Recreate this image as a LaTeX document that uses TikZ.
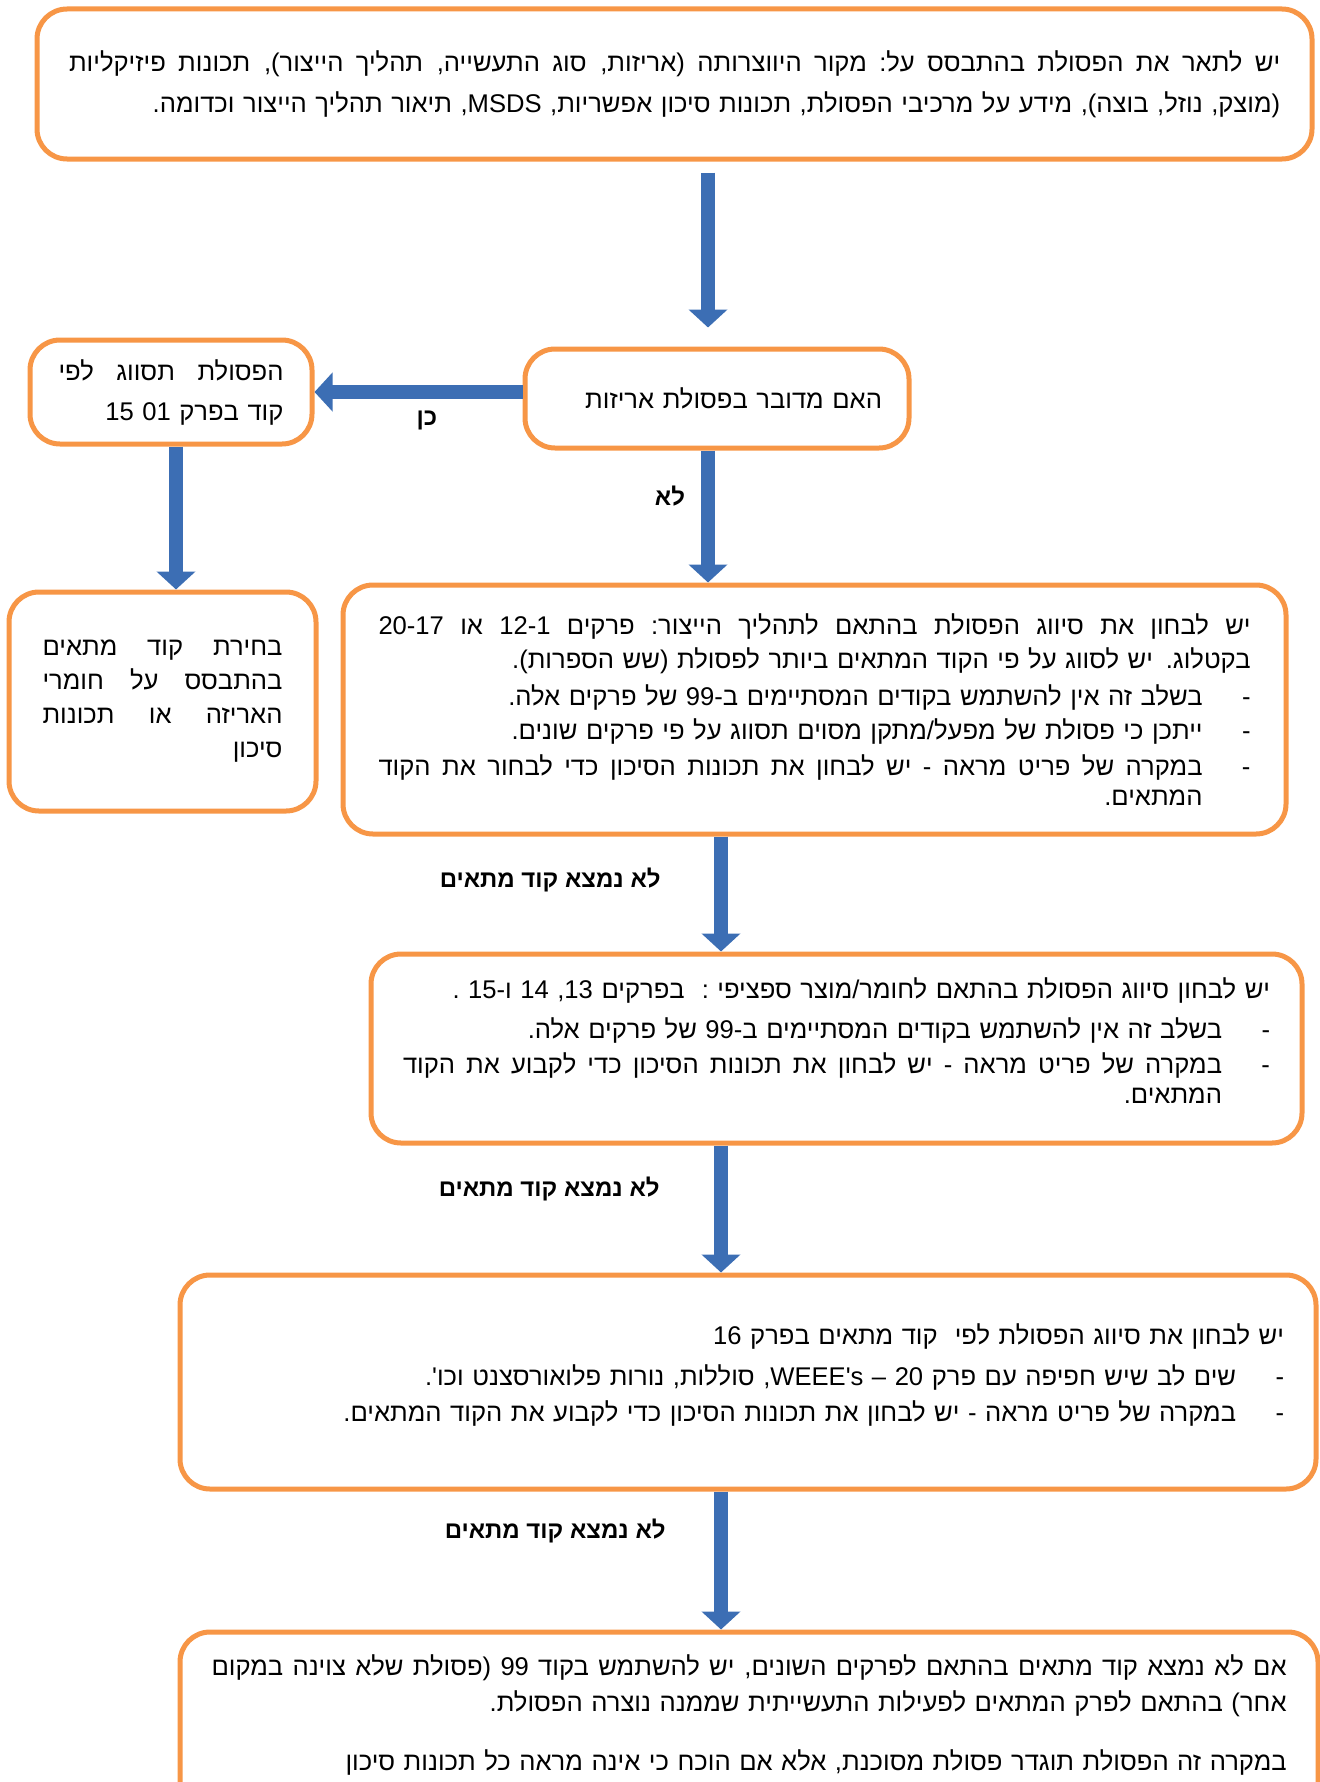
\documentclass[tikz,border=0pt]{standalone}
\usepackage{fontspec}
\usetikzlibrary{arrows.meta}
\newfontfamily\hebfont[Script=Hebrew]{Liberation Sans}
\TeXXeTstate=1
\definecolor{boxorange}{HTML}{F79646}
\definecolor{flowblue}{HTML}{3C6EB4}
\tikzset{>={Triangle[width=19pt,length=9pt]}}

% one right-to-left line, flush right
\newcommand{\rtlline}[1]{{\noindent\leftskip=0pt\rightskip=0pt\parfillskip=0pt\relax
  \beginR #1\hfil\endR\par}}
% one right-to-left line, spread over the full width
\newcommand{\rtljust}[1]{{\noindent\leftskip=0pt\rightskip=0pt\parfillskip=0pt
  \spaceskip=\fontdimen2\font plus 1fil\xspaceskip=\spaceskip\relax
  \beginR #1\endR\par}}
% dash item, indented from the right
\newcommand{\dashitem}[1]{\noindent\hbox to\linewidth{%
  \vtop{\hsize=\dimexpr\linewidth-24pt\relax #1}\hfil -}\par}

\begin{document}
\begin{tikzpicture}[x=0.5pt, y=-0.5pt,
    box/.style={draw=boxorange, line width=2.5pt, rounded corners=15pt, fill=white,
      inner sep=0pt, font=\hebfont\fontsize{12.8}{17}\selectfont},
    flow/.style={draw=flowblue, line width=7pt, ->},
    lbl/.style={font=\hebfont\bfseries\fontsize{12}{14}\selectfont, inner sep=0pt}]
    \useasboundingbox (0,0) rectangle (1319,1782);
    \coordinate (spine) at (708,0);
    \coordinate (spinelow) at (721,0);

    \node[box, minimum width=637.5pt, minimum height=75pt, text width=605.5pt,
      font=\hebfont\fontsize{12.8}{20.5}\selectfont] (top) at (674.5,84) {%
      \rtljust{יש לתאר את הפסולת בהתבסס על: מקור היווצרותה (אריזות, סוג התעשייה, תהליך הייצור), תכונות פיזיקליות}
      \rtlline{(מוצק, נוזל, בוצה), מידע על מרכיבי הפסולת, תכונות סיכון אפשריות, MSDS\kern0pt, תיאור תהליך הייצור וכדומה.}};

    \node[box, minimum width=192pt, minimum height=49.5pt, text width=165pt] (q) at (717,398.5) {%
      \rtlline{האם מדובר בפסולת אריזות}};

    \node[box, minimum width=141pt, minimum height=52pt, text width=112.5pt,
      font=\hebfont\fontsize{12.8}{20}\selectfont] (pkg) at (171,392) {%
      \rtljust{הפסולת תסווג לפי}
      \rtlline{קוד בפרק \beginL 15 01\endL}};

    \node[box, minimum width=153.5pt, minimum height=109.5pt, text width=120pt] (choice) at (162.5,701.5) {%
      \rtljust{בחירת קוד מתאים}
      \rtljust{בהתבסס על חומרי}
      \rtljust{האריזה או תכונות}
      \rtlline{סיכון}};

    \node[box, minimum width=471.5pt, minimum height=124.5pt, text width=436pt,
      font=\hebfont\fontsize{12.8}{15}\selectfont] (crit) at (814.5,709.5) {%
      \rtljust{יש לבחון את סיווג הפסולת בהתאם לתהליך הייצור: פרקים 12-1 או 20-17}\vskip 2pt
      \rtlline{בקטלוג. יש לסווג על פי הקוד המתאים ביותר לפסולת (שש הספרות).}\vskip 3.5pt
      \dashitem{\rtlline{בשלב זה אין להשתמש בקודים המסתיימים ב-99 של פרקים אלה.}}\vskip 2pt
      \dashitem{\rtlline{ייתכן כי פסולת של מפעל/מתקן מסוים תסווג על פי פרקים שונים.}}\vskip 3pt
      \dashitem{\rtljust{במקרה של פריט מראה - יש לבחון את תכונות הסיכון כדי לבחור את הקוד}
        \rtlline{המתאים.}}};

    \node[box, minimum width=465.5pt, minimum height=94.5pt, text width=433.5pt,
      font=\hebfont\fontsize{12.8}{15}\selectfont] (spec) at (836.5,1048.5) {%
      \rtlline{יש לבחון סיווג הפסולת בהתאם לחומר/מוצר ספציפי :\ \ בפרקים 13\kern0pt, 14 ו-15 .}\vskip 5pt
      \dashitem{\rtlline{בשלב זה אין להשתמש בקודים המסתיימים ב-99 של פרקים אלה.}}\vskip 2.5pt
      \dashitem{\rtljust{במקרה של פריט מראה - יש לבחון את תכונות הסיכון כדי לקבוע את הקוד}
        \rtlline{המתאים.}}\kern 8pt};

    \node[box, minimum width=568pt, minimum height=107pt, text width=536pt,
      font=\hebfont\fontsize{12.8}{15}\selectfont] (ch16) at (748,1382) {%
      \rtlline{יש לבחון את סיווג הפסולת לפי\ \ קוד מתאים בפרק 16}\vskip 5.5pt
      \dashitem{\rtlline{שים לב שיש חפיפה עם פרק 20 – WEEE's\kern0pt, סוללות, נורות פלואורסצנט וכו'.}}\vskip 3pt
      \dashitem{\rtlline{במקרה של פריט מראה - יש לבחון את תכונות הסיכון כדי לקבוע את הקוד המתאים.}}\kern 7pt};

    \node[box, minimum width=569pt, minimum height=134pt] (last) at (749,1766) {};
    \node[anchor=north, text width=537.5pt, inner sep=0pt, font=\hebfont\fontsize{12.8}{18}\selectfont]
      (lasttext) at ([yshift=-12.5pt]last.north) {%
      \rtljust{אם לא נמצא קוד מתאים בהתאם לפרקים השונים, יש להשתמש בקוד 99 (פסולת שלא צוינה במקום}
      \rtlline{אחר) בהתאם לפרק המתאים לפעילות התעשייתית שממנה נוצרה הפסולת.}
      \vskip 11.5pt
      \rtlline{במקרה זה הפסולת תוגדר פסולת מסוכנת, אלא אם הוכח כי אינה מראה כל תכונות סיכון}};

    % connectors
    \draw[flow, shorten <=5.5pt, shorten >=9.5pt] (top.south -| spine) -- (q.north -| spine);
    \draw[flow] (q.west |- pkg.east) -- (pkg.east);
    \draw[flow] (q.south -| spine) -- (crit.north -| spine);
    \draw[flow] ([xshift=2.5pt]pkg.south) -- ([xshift=2.5pt]pkg.south |- choice.north);
    \draw[flow] (crit.south -| spinelow) -- (spec.north -| spinelow);
    \draw[flow] (spec.south -| spinelow) -- (ch16.north -| spinelow);
    \draw[flow] (ch16.south -| spinelow) -- (last.north -| spinelow);

    \node[lbl] (yes) at (427,420) {\beginR כן\endR};
    \node[lbl] (no) at (670,496) {\beginR לא\endR};
    \node[lbl, anchor=east] (nf1) at (661,880) {\beginR לא נמצא קוד מתאים\endR};
    \node[lbl, anchor=east] (nf2) at (660,1189) {\beginR לא נמצא קוד מתאים\endR};
    \node[lbl, anchor=east] (nf3) at (666,1531) {\beginR לא נמצא קוד מתאים\endR};
\end{tikzpicture}
\end{document}
